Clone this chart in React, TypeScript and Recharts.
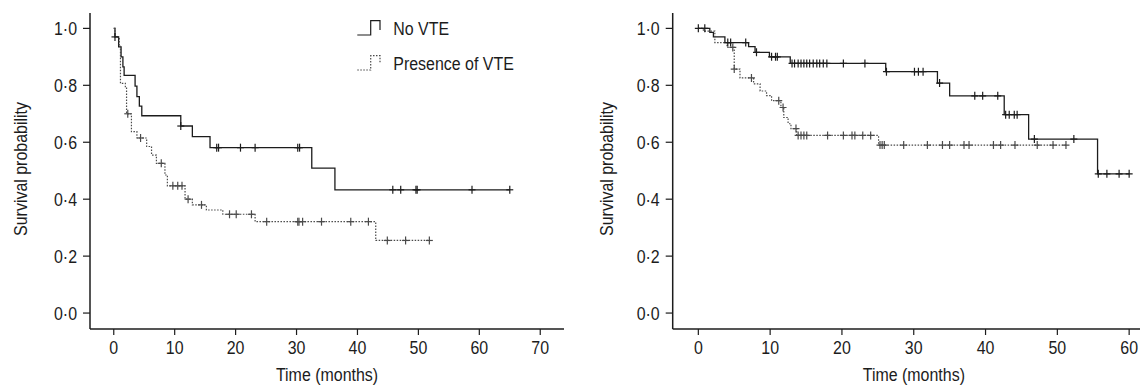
import React from 'react';
import { ComposedChart, Line, Scatter, XAxis, YAxis, Legend } from 'recharts';

// left panel - step times (months) and survival after each step
const leftNoVteTimes = [0, 0.2, 0.8, 1.2, 1.5, 1.7, 3.5, 3.8, 4.2, 4.6, 11.0, 12.9, 15.8, 32.5, 36.3];
const leftNoVteSurv = [1.0, 0.97, 0.935, 0.9, 0.865, 0.835, 0.797, 0.76, 0.727, 0.693, 0.657, 0.62, 0.581, 0.509, 0.433];
const leftNoVteCensored = [0.2, 11.0, 16.9, 17.2, 20.8, 23.2, 30.2, 30.5, 45.8, 47.1, 49.6, 49.8, 58.8, 65.0];

const leftVteTimes = [0, 0.2, 0.9, 1.1, 1.9, 2.1, 2.9, 3.8, 5.4, 6.2, 7.0, 8.4, 8.8, 11.7, 12.9, 15.2, 17.9, 23.2, 43.0];
const leftVteSurv = [1.0, 0.97, 0.94, 0.807, 0.79, 0.7, 0.637, 0.615, 0.585, 0.555, 0.526, 0.485, 0.447, 0.4, 0.38, 0.362, 0.347, 0.321, 0.255];
const leftVteCensored = [2.3, 4.4, 7.8, 9.7, 10.5, 11.2, 12.2, 14.4, 19.0, 20.1, 22.6, 25.1, 30.2, 30.4, 31.0, 34.1, 38.9, 41.8, 44.9, 47.9, 51.8];

// right panel
const rightNoVteTimes = [0, 1.6, 2.1, 3.7, 7.0, 7.9, 9.9, 12.8, 26.1, 33.3, 35.0, 42.6, 46.0, 55.6];
const rightNoVteSurv = [1.0, 0.986, 0.97, 0.95, 0.936, 0.916, 0.9, 0.877, 0.848, 0.808, 0.763, 0.697, 0.611, 0.489];
const rightNoVteCensored = [0, 0.9, 4.1, 4.5, 6.6, 8.1, 10.2, 10.75, 11.0, 13.05, 13.4, 13.9, 14.3, 14.7, 15.1, 15.5, 16.0, 16.5, 16.9, 17.4, 17.9, 20.2, 23.2, 26.2, 30.1, 30.65, 31.3, 33.6, 38.5, 39.6, 41.7, 42.8, 43.3, 44.0, 44.4, 46.8, 52.3, 55.7, 56.9, 58.6, 60.0];

const rightVteTimes = [0, 0.7, 2.3, 4.0, 5.0, 5.8, 7.7, 8.6, 9.5, 10.2, 11.5, 11.9, 12.5, 12.9, 13.7, 25.1];
const rightVteSurv = [1.0, 0.99, 0.95, 0.933, 0.857, 0.826, 0.805, 0.78, 0.764, 0.746, 0.722, 0.687, 0.665, 0.648, 0.624, 0.59];
const rightVteCensored = [4.8, 5.0, 7.4, 11.2, 11.8, 13.6, 13.9, 14.3, 14.7, 15.1, 18.0, 20.2, 21.4, 21.8, 22.9, 24.0, 25.3, 25.6, 25.9, 28.6, 31.9, 34.0, 35.0, 37.0, 37.7, 41.1, 42.1, 44.1, 47.2, 49.4, 51.2];

const xTicksLeft = [0, 10, 20, 30, 40, 50, 60, 70];
const xTicksRight = [0, 10, 20, 30, 40, 50, 60];
const yTicks = [0, 0.2, 0.4, 0.6, 0.8, 1.0];

const FONT = "'Liberation Sans', Arial, Helvetica, sans-serif";
const NARROW = 0.84;
const INK = '#1c1c1c';
const DOT_INK = '#4a4a4a';

function survAt(times: number[], values: number[], t: number) {
	let s = values[0];
	for (let i = 0; i < times.length; i++) if (times[i] <= t) s = values[i];
	return s;
}

function curve(times: number[], values: number[], censored: number[]) {
	const pts = times.map((t, i) => ({ t, s: values[i] }));
	const last = censored[censored.length - 1];
	if (last > times[times.length - 1]) pts.push({ t: last, s: survAt(times, values, last) });
	return pts;
}

function marks(times: number[], values: number[], censored: number[]) {
	return censored.map((t) => ({ t, s: survAt(times, values, t) }));
}

const fmt = (v: number) => v.toFixed(1).replace('.', '·');

const NarrowText = ({ x, y, anchor = 'start', rotate = false, children }: any) => (
	<text
		transform={`translate(${x},${y})${rotate ? ' rotate(-90)' : ''} scale(${NARROW},1)`}
		textAnchor={anchor}
		fontFamily={FONT}
		fontSize={19}
		fill={INK}
	>
		{children}
	</text>
);

const XTick = (props: any) => (
	<NarrowText x={props.x} y={props.y + 18.5} anchor='middle'>
		{props.payload.value}
	</NarrowText>
);

const YTick = (props: any) => (
	<NarrowText x={props.x - 6} y={props.y + 6.7} anchor='end'>
		{fmt(props.payload.value)}
	</NarrowText>
);

const Plus = ({ cx, cy, color }: any) => (
	<g stroke={color} strokeWidth={1.2}>
		<line x1={cx} y1={cy - 4} x2={cx} y2={cy + 4} />
		<line x1={cx - 3.5} y1={cy} x2={cx + 3.5} y2={cy} />
	</g>
);

const renderLegend = (props: any) => {
	const items = (props.payload || []).filter((p: any) => p.type === 'line');
	return (
		<svg width={200} height={70}>
			{items.map((it: any, i: number) => {
				const base = 20 + i * 35;
				const dashed = it.payload && it.payload.strokeDasharray;
				return (
					<g key={i}>
						<path
							d={`M2.3,${base} H15.7 V${base - 14.3} H25 V${base - (i === 0 ? 5 : 7)}`}
							fill='none'
							stroke={dashed ? DOT_INK : INK}
							strokeWidth={1.2}
							strokeDasharray={dashed || undefined}
						/>
						<NarrowText x={38.3} y={base}>
							{it.value}
						</NarrowText>
					</g>
				);
			})}
		</svg>
	);
};

function KmPanel({ width, yAxisWidth, rightMargin, xDomain, xTicks, yLabelX, noVte, vte, legend }: any) {
	return (
		<ComposedChart width={width} height={385} margin={{ top: 13, right: rightMargin, bottom: 0, left: 0 }}>
			<XAxis
				type='number'
				dataKey='t'
				domain={xDomain}
				ticks={xTicks}
				allowDataOverflow
				height={56}
				tickSize={6}
				tickMargin={0}
				axisLine={{ stroke: INK, strokeWidth: 1.5 }}
				tickLine={{ stroke: INK, strokeWidth: 1.2 }}
				tick={<XTick />}
				label={{
					content: (p: any) => (
						<NarrowText x={p.viewBox.x + p.viewBox.width / 2} y={p.viewBox.y + 52} anchor='middle'>
							Time (months)
						</NarrowText>
					),
				}}
			/>
			<YAxis
				type='number'
				dataKey='s'
				domain={[-0.056, 1.054]}
				ticks={yTicks}
				allowDataOverflow
				width={yAxisWidth}
				tickSize={7}
				tickMargin={0}
				axisLine={{ stroke: INK, strokeWidth: 1.5 }}
				tickLine={{ stroke: INK, strokeWidth: 1.2 }}
				tick={<YTick />}
				label={{
					content: (p: any) => (
						<NarrowText x={yLabelX} y={p.viewBox.y + p.viewBox.height / 2 - 2} anchor='middle' rotate>
							Survival probability
						</NarrowText>
					),
				}}
			/>
			<Line
				data={curve(noVte[0], noVte[1], noVte[2])}
				dataKey='s'
				name='No VTE'
				type='stepAfter'
				stroke={INK}
				strokeWidth={1.3}
				dot={false}
				legendType='line'
				isAnimationActive={false}
			/>
			<Line
				data={curve(vte[0], vte[1], vte[2])}
				dataKey='s'
				name='Presence of VTE'
				type='stepAfter'
				stroke={DOT_INK}
				strokeWidth={1.2}
				strokeDasharray='1.5 1.5'
				dot={false}
				legendType='line'
				isAnimationActive={false}
			/>
			<Scatter
				data={marks(noVte[0], noVte[1], noVte[2])}
				dataKey='s'
				legendType='none'
				shape={(p: any) => <Plus cx={p.cx} cy={p.cy} color={INK} />}
				isAnimationActive={false}
			/>
			<Scatter
				data={marks(vte[0], vte[1], vte[2])}
				dataKey='s'
				legendType='none'
				shape={(p: any) => <Plus cx={p.cx} cy={p.cy} color={DOT_INK} />}
				isAnimationActive={false}
			/>
			{legend && (
				<Legend
					layout='horizontal'
					verticalAlign='middle'
					align='center'
					wrapperStyle={{ position: 'absolute', left: 355, top: 15, width: 200, height: 70 }}
					content={renderLegend}
				/>
			)}
		</ComposedChart>
	);
}

export default function App() {
	return (
		<div style={{ position: 'absolute', left: 0, top: 0, width: 1140, height: 385, overflow: 'hidden', background: '#fff' }}>
			<div style={{ position: 'absolute', left: 0, top: 0 }}>
				<KmPanel
					width={570}
					yAxisWidth={90}
					rightMargin={6}
					xDomain={[-3.9, 73.9]}
					xTicks={xTicksLeft}
					yLabelX={27}
					noVte={[leftNoVteTimes, leftNoVteSurv, leftNoVteCensored]}
					vte={[leftVteTimes, leftVteSurv, leftVteCensored]}
					legend
				/>
			</div>
			<div style={{ position: 'absolute', left: 570, top: 0 }}>
				<KmPanel
					width={590}
					yAxisWidth={102.7}
					rightMargin={5}
					xDomain={[-3.57, 63.6]}
					xTicks={xTicksRight}
					yLabelX={43}
					noVte={[rightNoVteTimes, rightNoVteSurv, rightNoVteCensored]}
					vte={[rightVteTimes, rightVteSurv, rightVteCensored]}
				/>
			</div>
		</div>
	);
}
